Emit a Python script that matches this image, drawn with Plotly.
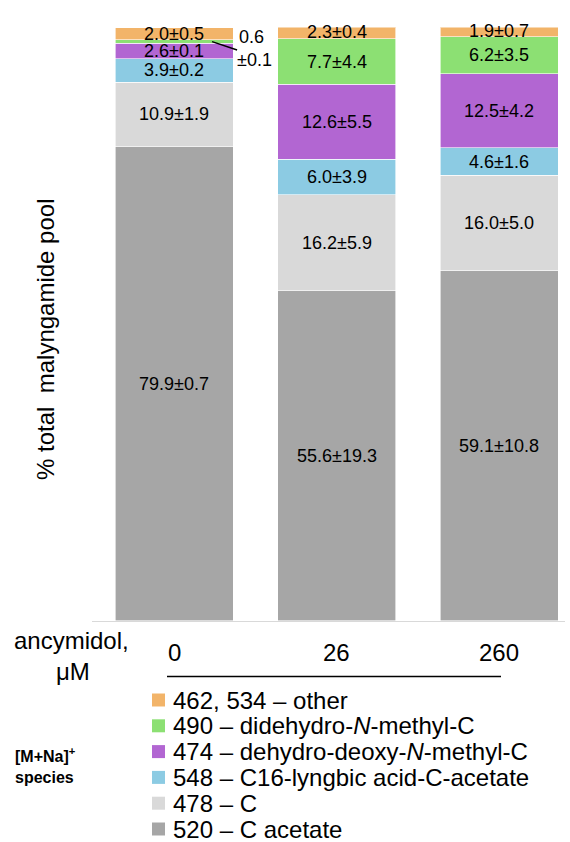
import plotly.graph_objects as go

categories = ["0", "26", "260"]
series_names = [
    "520 – C acetate",
    "478 – C",
    "548 – C16-lyngbic acid-C-acetate",
    "474 – dehydro-deoxy-<i>N</i>-methyl-C",
    "490 – didehydro-<i>N</i>-methyl-C",
    "462, 534 – other",
]
colors = ["#a6a6a6", "#d9d9d9", "#8ccbe3", "#b266d2", "#8ce073", "#f2b469"]

v520 = [79.9, 55.6, 59.1]
v478 = [10.9, 16.2, 16.0]
v548 = [3.9, 6.0, 4.6]
v474 = [2.6, 12.6, 12.5]
v490 = [0.6, 7.7, 6.2]
vother = [2.0, 2.3, 1.9]

e520 = [0.7, 19.3, 10.8]
e478 = [1.9, 5.9, 5.0]
e548 = [0.2, 3.9, 1.6]
e474 = [0.1, 5.5, 4.2]
e490 = [0.1, 4.4, 3.5]
eother = [0.5, 0.4, 0.7]

values = [v520, v478, v548, v474, v490, vother]
errors = [e520, e478, e548, e474, e490, eother]

W, H = 570, 842
FONT = "Arial, Liberation Sans, sans-serif"
xpos = list(range(len(categories)))

def px(x):
    return x / W

def py(y):
    return 1 - y / H

fig = go.Figure()
for name, col, vals in zip(series_names, colors, values):
    fig.add_trace(go.Bar(
        x=xpos, y=vals, name=name, width=0.726,
        marker=dict(color=col, line=dict(color="white", width=0.6)),
        showlegend=False, hoverinfo="skip",
    ))

annotations = []
shapes = []
# segment labels
bottoms = [0.0] * len(categories)
for si, (vals, errs) in enumerate(zip(values, errors)):
    for ci in range(len(categories)):
        mid = bottoms[ci] + vals[ci] / 2
        label = f"{vals[ci]:.1f}±{errs[ci]:.1f}"
        if vals[ci] < 1.0:
            # small segment: label outside with a leader line
            annotations.append(dict(x=ci + 0.474, y=mid + 0.8, xref="x", yref="y",
                                    text=f"{vals[ci]:.1f}", showarrow=False,
                                    font=dict(size=18, color="black", family=FONT)))
            annotations.append(dict(x=ci + 0.498, y=mid - 3.1, xref="x", yref="y",
                                    text=f"±{errs[ci]:.1f}", showarrow=False,
                                    font=dict(size=18, color="black", family=FONT)))
            shapes.append(dict(type="line", xref="x", yref="y",
                               x0=ci + 0.234, y0=mid, x1=ci + 0.388, y1=mid - 1.4,
                               line=dict(color="black", width=1.5)))
        else:
            annotations.append(dict(x=ci, y=mid, xref="x", yref="y", text=label,
                                    showarrow=False,
                                    font=dict(size=18, color="black", family=FONT)))
        bottoms[ci] += vals[ci]

# category labels
for ci, c in enumerate(categories):
    annotations.append(dict(x=ci, y=py(652), xref="x", yref="paper", text=c,
                            showarrow=False, xanchor="center", yanchor="middle",
                            font=dict(size=24, color="black", family=FONT)))
annotations.append(dict(x=px(71), y=py(640), xref="paper", yref="paper",
                        text="ancymidol,", showarrow=False,
                        xanchor="center", yanchor="middle",
                        font=dict(size=24, color="black", family=FONT)))
annotations.append(dict(x=px(73), y=py(671), xref="paper", yref="paper",
                        text="μM", showarrow=False,
                        xanchor="center", yanchor="middle",
                        font=dict(size=24, color="black", family=FONT)))
shapes.append(dict(type="line", xref="paper", yref="paper",
                   x0=px(167), x1=px(501), y0=py(676.5), y1=py(676.5),
                   line=dict(color="black", width=1.6)))

# y title
annotations.append(dict(x=px(45), y=py(340), xref="paper", yref="paper",
                        text="% total  malyngamide pool", textangle=-90,
                        xanchor="center", yanchor="middle",
                        showarrow=False,
                        font=dict(size=24, color="black", family=FONT)))

# legend (top to bottom: reverse of stack order)
row_y = [700, 725.8, 751.6, 777.4, 803.2, 829]
for i, si in enumerate(range(len(series_names) - 1, -1, -1)):
    yc = row_y[i]
    shapes.append(dict(type="rect", xref="paper", yref="paper",
                       x0=px(152), x1=px(165), y0=py(yc - 6.5), y1=py(yc + 6.5),
                       fillcolor=colors[si], line=dict(width=0)))
    annotations.append(dict(x=px(171), y=py(yc), xref="paper", yref="paper",
                            xanchor="left", yanchor="middle", text=series_names[si],
                            showarrow=False,
                            font=dict(size=24, color="black", family=FONT)))
annotations.append(dict(x=px(13), y=py(755), xref="paper", yref="paper",
                        xanchor="left", yanchor="middle", text="<b>[M+Na]<sup>+</sup></b>",
                        showarrow=False, font=dict(size=16, color="black", family=FONT)))
annotations.append(dict(x=px(13), y=py(777), xref="paper", yref="paper",
                        xanchor="left", yanchor="middle", text="<b>species</b>",
                        showarrow=False, font=dict(size=16, color="black", family=FONT)))

fig.update_layout(
    width=W, height=H, barmode="stack",
    margin=dict(l=0, r=0, t=0, b=0),
    paper_bgcolor="white", plot_bgcolor="white",
    showlegend=False,
    xaxis=dict(domain=[px(92), px(565)], range=[-0.505, 2.406],
               showticklabels=False, ticks="", showgrid=False, zeroline=False,
               showline=True, linecolor="#d9d9d9", linewidth=1),
    yaxis=dict(domain=[py(621), py(27.4)], range=[0, 100],
               showticklabels=False, ticks="", showgrid=False, zeroline=False,
               showline=False),
    annotations=annotations, shapes=shapes,
    font=dict(family=FONT),
)

fig.write_html("out.html")
